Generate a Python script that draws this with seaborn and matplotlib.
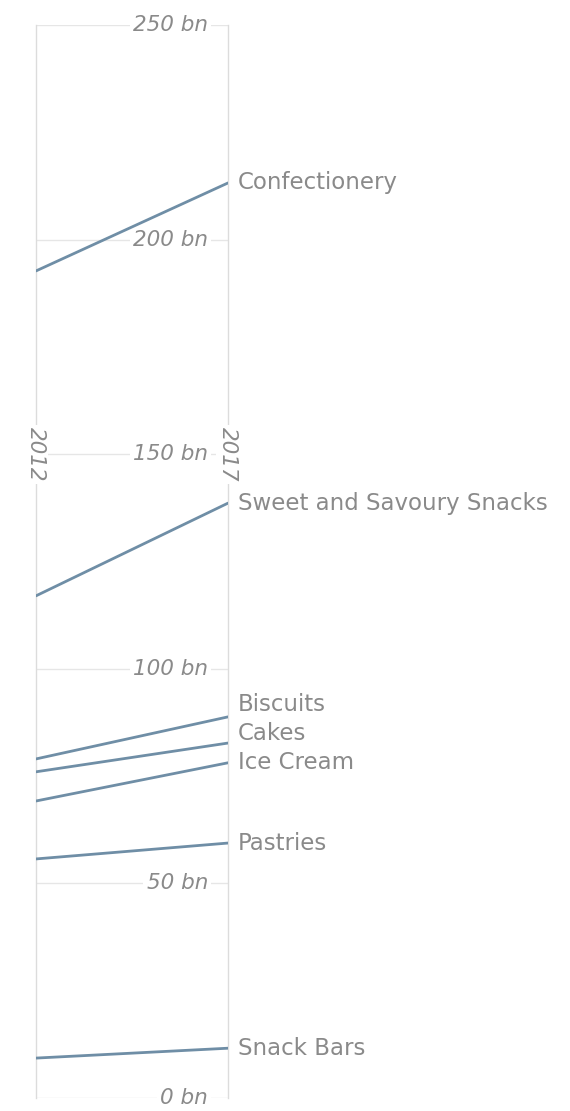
import matplotlib
matplotlib.use("Agg")
import matplotlib.pyplot as plt
import seaborn as sns
import pandas as pd

categories = ["Confectionery", "Sweet and Savoury Snacks", "Biscuits", "Cakes",
              "Ice Cream", "Pastries", "Snack Bars"]
values_2012 = [192.7, 117.0, 79.0, 76.0, 69.2, 55.7, 9.3]
values_2017 = [213.2, 138.6, 88.8, 82.7, 78.1, 59.4, 11.6]
years = [2012, 2017]
tick_values = [0, 50, 100, 150, 200, 250]
tick_labels = ["0 bn", "50 bn", "100 bn", "150 bn", "200 bn", "250 bn"]

sns.set_theme(style="white")
plt.rcParams['font.family'] = ['DejaVu Sans']

rows = []
for c, a, b in zip(categories, values_2012, values_2017):
    rows.append({"category": c, "year": years[0], "value": a})
    rows.append({"category": c, "year": years[1], "value": b})
df = pd.DataFrame(rows)

W, H = 570, 1111
fig = plt.figure(figsize=(W / 100, H / 100), dpi=100)
left_px, right_px, top_px, bottom_px = 36, 228, 25, 1098
ax = fig.add_axes([left_px / W, (H - bottom_px) / H,
                   (right_px - left_px) / W, (bottom_px - top_px) / H])

line_color = "#6f8ea6"
text_color = "#8a8a8a"
grid_color = "#e6e6e6"

# grid lines
for v in tick_values:
    ax.plot([years[0], years[1]], [v, v], color=grid_color, lw=1, zorder=1)

sns.lineplot(data=df, x="year", y="value", units="category", estimator=None,
             color=line_color, linewidth=2, ax=ax, legend=False, zorder=3)

ax.set_xlim(years[0], years[1])
ax.set_ylim(0, 250)
ax.set_xticks([])
ax.set_yticks([])
ax.set_xlabel("")
ax.set_ylabel("")
for s in ["top", "bottom"]:
    ax.spines[s].set_visible(False)
for s in ["left", "right"]:
    ax.spines[s].set_color("#dcdcdc")
    ax.spines[s].set_linewidth(1)
    ax.spines[s].set_zorder(2)

# tick labels
x_lab = years[0] + (208 - left_px) / (right_px - left_px) * (years[1] - years[0])
for v, t in zip(tick_values, tick_labels):
    ax.text(x_lab, v, t, ha="right", va="center", fontsize=15.5, style="italic",
            color=text_color, zorder=2,
            bbox=dict(boxstyle="square,pad=0.15", fc="white", ec="none"))

# year labels
for yr in years:
    ax.text(yr, 150, str(yr), rotation=-90, ha="center", va="center",
            fontsize=15.5, style="italic", color=text_color, zorder=4,
            bbox=dict(boxstyle="square,pad=0.1", fc="white", ec="none"))

# end labels with simple collision avoidance
min_gap = 6.8
order = sorted(range(len(categories)), key=lambda i: values_2017[i])
pos = {}
prev = -1e9
for i in order:
    p = max(values_2017[i], prev + min_gap)
    pos[i] = p
    prev = p
for i, c in enumerate(categories):
    ax.annotate(c, xy=(years[1], pos[i]), xytext=(7, 0), textcoords="offset points",
                ha="left", va="center", fontsize=16.5, color=text_color,
                annotation_clip=False)

fig.savefig("out.png", dpi=100, facecolor="white")
